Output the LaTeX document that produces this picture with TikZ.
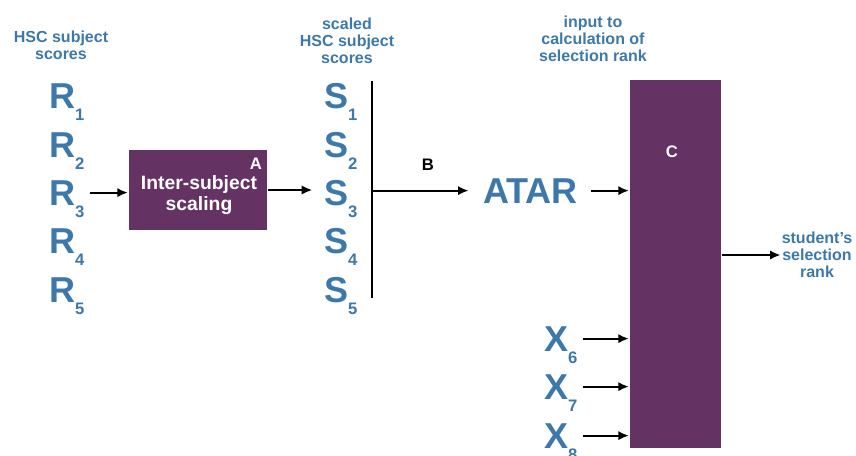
\documentclass[tikz,border=0pt]{standalone}
\usepackage{fontspec}
\setmainfont{Liberation Sans}
\usetikzlibrary{arrows.meta,positioning}
\definecolor{scoreblue}{HTML}{3D78AA}
\definecolor{boxpurple}{HTML}{653264}
\newcommand{\sub}[1]{\raisebox{-9pt}[0pt][0pt]{\fontsize{12.5pt}{12.5pt}\selectfont #1}}
\tikzset{%
  >={Latex[width=7pt,length=8pt]},
  % Specifications for style of nodes:
       heading/.style = {text=scoreblue, align=center, inner sep=0pt,
                         font=\bfseries\fontsize{12pt}{12.75pt}\selectfont},
        symbol/.style = {text=scoreblue, inner sep=0pt, anchor=base west,
                         font=\bfseries\fontsize{27pt}{27pt}\selectfont},
       stepbox/.style = {rectangle, fill=boxpurple},
      steptext/.style = {text=white, align=center, inner sep=0pt,
                         font=\bfseries\fontsize{14.5pt}{15.75pt}\selectfont},
           tag/.style = {inner sep=0pt, font=\bfseries\fontsize{12.5pt}{12.5pt}\selectfont},
}
\begin{document}
\begin{tikzpicture}[x=0.75pt, y=-0.75pt, line width=1.6pt]
\useasboundingbox (0,0) rectangle (856,455);

\node (hsc)    [heading] at (61,45)  {HSC subject\\scores};
\node (scaled) [heading] at (347,41) {scaled\\HSC subject\\scores};
\node (input)  [heading] at (593,39) {input to\\calculation of\\selection rank};
\node (rank)   [heading] at (817,255) {student's\\selection\\rank};

% raw and scaled scores
\foreach \i/\y in {1/108,2/157,3/205,4/253,5/302} {
  \node (R\i) [symbol] at (48,\y)  {R\sub{\i}};
  \node (S\i) [symbol] at (323,\y) {S\sub{\i}};
}
\node (ATAR) [symbol] at (482,203) {ATAR};
\foreach \i/\y in {6/351,7/399,8/448}
  \node (X\i) [symbol] at (543,\y) {X\sub{\i}};

\node (A) [stepbox, minimum width=103.5pt, minimum height=60pt] at (198,190) {};
\node (Atext) [steptext] at (199,195) {Inter-subject\\scaling};
\node (Atag) [tag, text=white] at (256,164) {A};

\node (C) [stepbox, minimum width=68.25pt, minimum height=276pt] at (675.5,264) {};
\node (Ctag) [tag, text=white] at (672,152) {C};

\coordinate (bartop) at (372,81);
\coordinate (barbot) at (372,298);
\draw (bartop) -- (barbot);
\node (B) [tag] at (428,165) {B};

\draw[->, shorten <=3.5pt]             (R3.east) -- (R3.east -| A.west);
\draw[->, shorten >=8pt]               (A.east) -- (A.east -| S3.west);
\draw[->, shorten >=10pt]              (bartop |- ATAR.west) -- (ATAR.west);
\draw[->, shorten <=9pt]               (ATAR.east) -- (ATAR.east -| C.west);
\draw[->, shorten <=3.5pt]             (X6.east) -- (X6.east -| C.west);
\draw[->, shorten <=3.5pt]             (X7.east) -- (X7.east -| C.west);
\draw[->, shorten <=3.5pt]             (X8.east) -- (X8.east -| C.west);
\draw[->]                              (C.east |- rank.west) -- (rank.west);
\end{tikzpicture}
\end{document}
